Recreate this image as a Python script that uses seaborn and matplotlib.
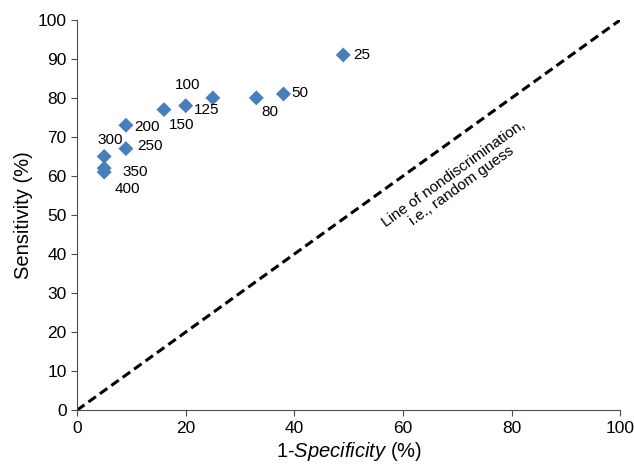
import matplotlib
matplotlib.use("Agg")
import matplotlib.pyplot as plt
import seaborn as sns
import pandas as pd

# thresholds and the ROC points
thresholds = ["25", "50", "80", "100", "125", "150", "200", "250", "300", "350", "400"]
fpr = [49, 38, 33, 25, 20, 16, 9, 9, 5, 5, 5]
sens = [91, 81, 80, 80, 78, 77, 73, 67, 65, 62, 61]

# label offsets in points (x right, y up)
label_offsets = {
    "25": (7, 0, "left"), "50": (6, 1, "left"), "80": (10, -10, "center"),
    "100": (-18, 9, "center"), "125": (15, -3, "center"), "150": (13, -11, "center"),
    "200": (15, -1, "center"), "250": (17, 2, "center"), "300": (4, 12, "center"),
    "350": (22, -3, "center"), "400": (17, -12, "center"),
}

sns.set_style("ticks", {"axes.edgecolor": "0.3", "text.color": "black",
                        "axes.labelcolor": "black", "xtick.color": "0.3",
                        "ytick.color": "0.3"})
plt.rcParams["font.family"] = ["Liberation Sans", "DejaVu Sans"]
plt.rcParams["mathtext.fontset"] = "custom"
plt.rcParams["mathtext.rm"] = "Liberation Sans"
plt.rcParams["mathtext.it"] = "Liberation Sans:italic"

df = pd.DataFrame({"fpr": fpr, "sens": sens, "thr": thresholds})

fig = plt.figure(figsize=(6.34, 4.72), dpi=100)
ax = fig.add_axes([0.1215, 0.131, 0.857, 0.827])

ax.plot([0, 100], [0, 100], color="black", linestyle=(0, (3, 1.6)), linewidth=2.2, zorder=1)
sns.scatterplot(data=df, x="fpr", y="sens", marker="D", s=58, color="#4a7ebb",
                edgecolor="none", ax=ax, zorder=3)

for t, x, y in zip(thresholds, fpr, sens):
    dx, dy, ha = label_offsets[t]
    ax.annotate(t, (x, y), xytext=(dx, dy), textcoords="offset points",
                ha=ha, va="center", fontsize=11, color="black")

ax.text(70, 59, "Line of nondiscrimination,\ni.e., random guess", rotation=35.7,
        rotation_mode="anchor", ha="center", va="center", fontsize=11,
        linespacing=1.0, color="black")

ax.set_xlim(0, 100)
ax.set_ylim(0, 100)
ax.set_xticks(range(0, 101, 20))
ax.set_yticks(range(0, 101, 10))
ax.tick_params(labelsize=12.5, length=4, width=0.8, labelcolor="black")
ax.set_xlabel("1-$\\it{Specificity}$ (%)", fontsize=14.5, labelpad=3)
ax.set_ylabel("Sensitivity (%)", fontsize=14.5, labelpad=3)
sns.despine(ax=ax)

fig.savefig("out.png", dpi=100)
plt.close(fig)
